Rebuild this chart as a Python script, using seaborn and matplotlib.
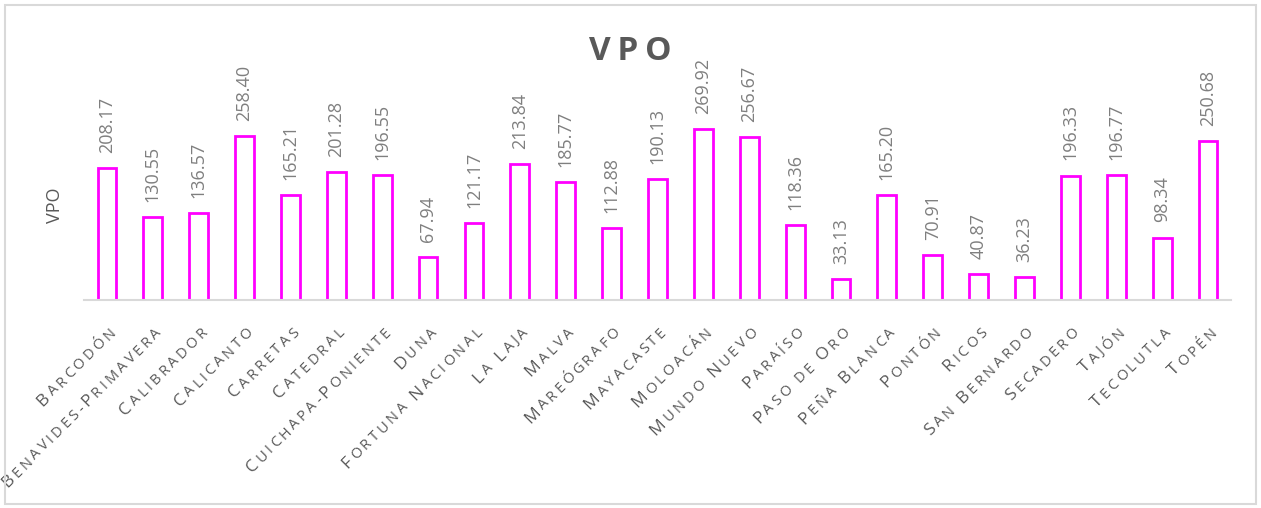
import numpy as np
import matplotlib
matplotlib.use("Agg")
import matplotlib.pyplot as plt
import matplotlib.transforms as mtransforms
from matplotlib.font_manager import FontProperties
import seaborn as sns
from matplotlib.patches import Rectangle

campos = ["Barcodón", "Benavides-Primavera", "Calibrador", "Calicanto", "Carretas",
          "Catedral", "Cuichapa-Poniente", "Duna", "Fortuna Nacional", "La Laja",
          "Malva", "Mareógrafo", "Mayacaste", "Moloacán", "Mundo Nuevo", "Paraíso",
          "Paso de Oro", "Peña Blanca", "Pontón", "Ricos", "San Bernardo", "Secadero",
          "Tajón", "Tecolutla", "Topén"]
vpo = [208.17, 130.55, 136.57, 258.40, 165.21, 201.28, 196.55, 67.94, 121.17, 213.84,
       185.77, 112.88, 190.13, 269.92, 256.67, 118.36, 33.13, 165.20, 70.91, 40.87,
       36.23, 196.33, 196.77, 98.34, 250.68]

sns.set_style("white")
plt.rcParams["font.family"] = ["Open Sans", "DejaVu Sans"]

fig = plt.figure(figsize=(12.61, 5.08), dpi=100)
ax = fig.add_axes([0.0666, 0.4094, 0.9096, 0.5118])

sns.barplot(x=campos, y=vpo, color="white", edgecolor="#FF00FF", linewidth=2,
            width=0.41, saturation=1, ax=ax)

ax.bar_label(ax.containers[0], labels=[f"{v:.2f}" for v in vpo], rotation=90,
             padding=11, color="#7F7F7F", fontsize=13)

ax.set_xlim(-0.5, len(campos) - 0.5)
ax.set_ylim(0, 410)
ax.set_yticks([])
ax.set_ylabel("")
ax.set_xticks(range(len(campos)))
ax.set_xticklabels([])
ax.tick_params(axis="x", length=0)
for s in ["top", "left", "right"]:
    ax.spines[s].set_visible(False)
ax.spines["bottom"].set_color("#D9D9D9")
ax.spines["bottom"].set_linewidth(1.5)

# etiquetas en versalitas, letra por letra a 45 grados
fp_big = FontProperties(family=["Open Sans", "DejaVu Sans"], size=12.5)
fp_small = FontProperties(family=["Open Sans", "DejaVu Sans"], size=10.5)
renderer = fig.canvas.get_renderer()
tracking = 3
ang = np.deg2rad(45)
ux, uy = np.cos(ang), np.sin(ang)


def ancho(ch, fp):
    if ch == " ":
        w2 = renderer.get_text_width_height_descent("A A", fp, ismath=False)[0]
        w1 = renderer.get_text_width_height_descent("AA", fp, ismath=False)[0]
        return w2 - w1
    return renderer.get_text_width_height_descent(ch, fp, ismath=False)[0]


for i, nombre in enumerate(campos):
    piezas = []
    for ch in nombre:
        fp = fp_big if ch.isupper() else fp_small
        piezas.append((ch.upper(), fp, ancho(ch.upper(), fp)))
    total = sum(w for _, _, w in piezas) + tracking * (len(piezas) - 1)
    ex, ey = 9, -33
    pos = -total
    for ch, fp, w in piezas:
        dx = ex + pos * ux
        dy = ey + pos * uy
        tr = ax.get_xaxis_transform() + mtransforms.ScaledTranslation(
            dx / fig.dpi, dy / fig.dpi, fig.dpi_scale_trans)
        ax.text(i, 0, ch, transform=tr, fontproperties=fp, rotation=45,
                rotation_mode="anchor", ha="left", va="baseline",
                color="#595959", clip_on=False)
        pos += w + tracking

fig.text(0.5, 1 - 52 / 508, "V\u2009P\u2009O", ha="center", va="center", fontsize=24,
         fontweight="bold", color="#595959")
fig.text(55 / 1261, 1 - 205 / 508, "VPO", ha="center", va="center", rotation=90,
         fontsize=13, color="#595959")

fig.patches.append(Rectangle((5 / 1261, 4 / 508), 1251 / 1261, 499 / 508,
                             transform=fig.transFigure, fill=False,
                             edgecolor="#D9D9D9", linewidth=1.5))

fig.savefig("out.png", dpi=100)
